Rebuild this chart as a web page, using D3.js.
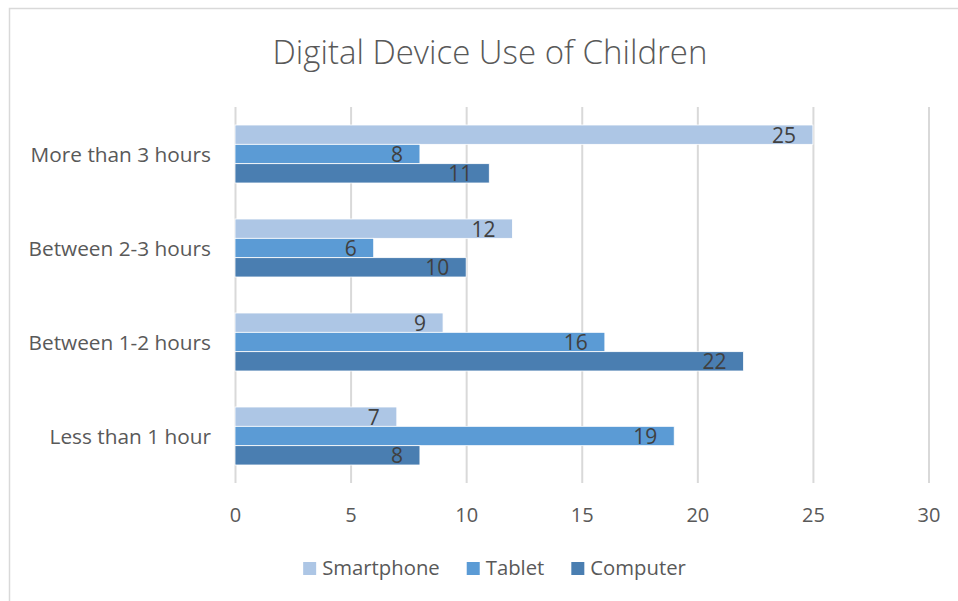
<!DOCTYPE html>
<html>
<head>
<meta charset="utf-8">
<script src="https://cdn.jsdelivr.net/npm/d3@7"></script>
<style>
  html, body { margin: 0; padding: 0; background: #fff; }
  svg { display: block; }
  text { font-family: "Open Sans", "Noto Sans", sans-serif; }
</style>
</head>
<body>
<svg id="chart" width="958" height="601"></svg>
<script>
const title = "Digital Device Use of Children";
const categories = ["More than 3 hours", "Between 2-3 hours", "Between 1-2 hours", "Less than 1 hour"];
const seriesNames = ["Smartphone", "Tablet", "Computer"];
const smartphone = [25, 12, 9, 7];
const tablet = [8, 6, 16, 19];
const computer = [11, 10, 22, 8];
const xTicks = [0, 5, 10, 15, 20, 25, 30];
const colors = ["#ADC6E5", "#5B9BD5", "#4A7EB1"];

const seriesValues = [smartphone, tablet, computer];
const data = categories.map((c, i) => ({
  category: c,
  values: seriesNames.map((s, j) => ({ series: s, value: seriesValues[j][i] }))
}));

const svg = d3.select("#chart");

// border
svg.append("path")
  .attr("d", "M9.5,601 L9.5,8.5 L958,8.5")
  .attr("fill", "none")
  .attr("stroke", "#d9d9d9")
  .attr("stroke-width", 1.5);

const plot = { left: 235, right: 928.5, top: 107, bottom: 483 };

const x = d3.scaleLinear().domain([0, 30]).range([plot.left, plot.right]);
const pIn = 36 / 94;
const y = d3.scaleBand().domain(categories).range([plot.top, plot.bottom])
  .paddingInner(pIn).paddingOuter(pIn / 2);
const ySub = d3.scaleBand().domain(seriesNames).range([0, y.bandwidth()]).padding(0);
const color = d3.scaleOrdinal().domain(seriesNames).range(colors);

// title
svg.append("text")
  .attr("x", 490).attr("y", 64)
  .attr("text-anchor", "middle")
  .attr("font-size", 33)
  .attr("font-weight", 300)
  .attr("fill", "#595959")
  .text(title);

// gridlines
const xAxis = d3.axisBottom(x).tickValues(xTicks).tickSize(-(plot.bottom - plot.top)).tickPadding(0);
const gx = svg.append("g").attr("transform", `translate(0,${plot.bottom})`).call(xAxis);
gx.select(".domain").remove();
gx.selectAll(".tick line").attr("stroke", "#d9d9d9").attr("stroke-width", 2);
gx.selectAll(".tick text")
  .attr("y", 39)
  .attr("dy", 0)
  .attr("font-size", 20)
  .attr("fill", "#595959")
  .attr("font-family", "'Open Sans', 'Noto Sans', sans-serif");

// category axis labels
const yAxis = d3.axisLeft(y).tickSize(0).tickPadding(0);
const gy = svg.append("g").attr("transform", `translate(211,0)`).call(yAxis);
gy.select(".domain").remove();
gy.selectAll(".tick text")
  .attr("x", 0)
  .attr("dy", "0.36em")
  .attr("font-size", 20.8)
  .attr("fill", "#595959")
  .attr("font-family", "'Open Sans', 'Noto Sans', sans-serif");

// bars
const groups = svg.append("g").selectAll("g")
  .data(data).join("g")
  .attr("transform", d => `translate(0,${y(d.category)})`);

groups.selectAll("rect")
  .data(d => d.values).join("rect")
  .attr("x", x(0))
  .attr("y", d => ySub(d.series))
  .attr("width", d => x(d.value) - x(0))
  .attr("height", ySub.bandwidth())
  .attr("fill", d => color(d.series))
  .attr("stroke", "#ffffff")
  .attr("stroke-width", 0.8);

groups.selectAll("text.label")
  .data(d => d.values).join("text")
  .attr("class", "label")
  .attr("x", d => x(d.value) - 17)
  .attr("y", d => ySub(d.series) + ySub.bandwidth() / 2)
  .attr("dy", "0.38em")
  .attr("text-anchor", "end")
  .attr("font-size", 21)
  .attr("fill", "#404040")
  .text(d => d.value);

// legend
const legend = svg.append("g");
const items = legend.selectAll("g").data(seriesNames).join("g");
items.append("rect")
  .attr("width", 13).attr("height", 13)
  .attr("y", -13)
  .attr("fill", d => color(d));
items.append("text")
  .attr("x", 19)
  .attr("y", 0)
  .attr("font-size", 20.3)
  .attr("fill", "#595959")
  .text(d => d);
const widths = [];
items.each(function() {
  const w = d3.select(this).select("text").node().getComputedTextLength() + 19;
  widths.push(w);
});
const gap = 27;
const total = d3.sum(widths) + gap * (widths.length - 1);
const startX = 494.5 - total / 2;
items.attr("transform", (d, i) => {
  const tx = startX + d3.sum(widths.slice(0, i)) + gap * i;
  return `translate(${tx},575)`;
});
</script>
</body>
</html>
